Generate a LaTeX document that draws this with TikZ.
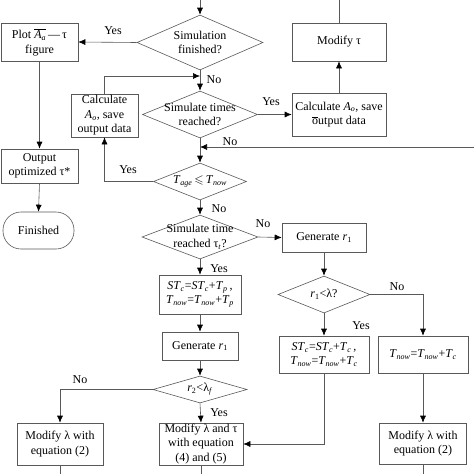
\documentclass[tikz,border=0pt]{standalone}
\usepackage{amssymb}
\usepackage{fontspec}
\setmainfont{Liberation Serif}
\usetikzlibrary{shapes.geometric,arrows.meta}

\newcommand{\vsub}[2]{\textit{#1}\textsubscript{\textit{#2}}}

\begin{document}
\begin{tikzpicture}[x=1pt,y=-1pt,
    font=\fontsize{12}{14.5}\selectfont,
    box/.style={draw=black!65, line width=0.6pt, inner sep=0pt, align=center},
    dia/.style={diamond, draw=black!65, line width=0.6pt, inner sep=-40pt, align=center},
    conn/.style={draw=black!65, line width=0.6pt},
    arr/.style={conn, -{Latex[length=7pt,width=6pt,black]}}]
    \useasboundingbox (0,0) rectangle (474,474);

    % draw boxes
    \node[box, minimum width=77, minimum height=38] (plot) at (39.5,42) {Plot $\overline{\hbox{\vsub{A}{a}}}$\,---\,τ\\figure};
    \node[box, minimum width=94, minimum height=38] (modtau) at (339,42) {Modify τ};
    \node[box, minimum width=67, minimum height=43] (calcL) at (104.5,115.5) {Calculate\\\vsub{A}{o}, save\\output data};
    \node[box, minimum width=94, minimum height=43] (calcR) at (339,114.5) {Calculate \vsub{A}{o}, save\\$\overline{\hbox{o}}$utput data};
    \node[box, minimum width=77, minimum height=34] (output) at (39.5,166) {Output\\optimized τ*};
    \node[box, minimum width=71, minimum height=37, rounded corners=18pt] (finished) at (38.5,230.5) {Finished};
    \node[box, minimum width=84, minimum height=29] (genR) at (324,237.5) {Generate \textit{r}\textsubscript{1}};
    \node[box, minimum width=82, minimum height=39] (stp) at (200,294.5) {\vsub{ST}{c}=\vsub{ST}{c}+\vsub{T}{p}\,,\\\vsub{T}{now}=\vsub{T}{now}+\vsub{T}{p}};
    \node[box, minimum width=76, minimum height=28] (genL) at (200,346) {Generate \textit{r}\textsubscript{1}};
    \node[box, minimum width=90, minimum height=37] (stc) at (324,354.5) {\vsub{ST}{c}=\vsub{ST}{c}+\vsub{T}{c}\,,\\\vsub{T}{now}=\vsub{T}{now}+\vsub{T}{c}};
    \node[box, minimum width=90, minimum height=37] (tnow) at (423,354.5) {\vsub{T}{now}=\vsub{T}{now}+\vsub{T}{c}};
    \node[box, minimum width=86, minimum height=42] (modL) at (60,444) {Modify λ with\\equation (2)};
    \node[box, minimum width=84, minimum height=42] (modM) at (201,444) {Modify λ and τ\\with equation\\(4) and (5)};
    \node[box, minimum width=87, minimum height=41] (modR) at (423,443.5) {Modify λ with\\equation (2)};

    % draw decisions
    \node[dia, minimum width=126, minimum height=55] (simfin) at (200,42.5) {Simulation\\finished?};
    \node[dia, minimum width=115, minimum height=47] (simtimes) at (200,114.5) {Simulate times\\reached?};
    \node[dia, minimum width=93, minimum height=37] (tage) at (200,181.5) {\vsub{T}{age}$\,\leqslant\,$\vsub{T}{now}};
    \node[dia, minimum width=116, minimum height=44] (simtime) at (200,237) {Simulate time\\reached τ\textsubscript{\textit{t}}?};
    \node[dia, minimum width=92, minimum height=37] (r1lam) at (324,294.5) {\textit{r}\textsubscript{1}<λ?};
    \node[dia, minimum width=94, minimum height=27] (r2lam) at (200,389.5) {\textit{r}\textsubscript{2}<λ\textsubscript{\textit{f}}};

    % draw free ends
    \coordinate (topin) at (200,0);
    \coordinate (topout) at (339,0);
    \coordinate (back) at (474,147);
    \coordinate (join) at (200,147);
    \coordinate (loop) at (200,76);

    % draw connectors
    \draw[arr] (topin) -- (simfin.north);
    \draw[conn] (modtau.north) -- (topout);
    \draw[arr] (simfin.west) -- (plot.east);
    \draw[arr] (plot.south) -- (output.north);
    \draw[arr] (output.south) -- (finished.north);
    \draw[arr] (simfin.south) -- (simtimes.north);
    \draw[arr] (calcL.north) |- (loop);
    \draw[arr] (simtimes.east) -- (calcR.west);
    \draw[arr] (calcR.north) -- (modtau.south);
    \draw[arr] (back) -- (join);
    \draw[arr] (simtimes.south) -- (tage.north);
    \draw[arr] (tage.west) -| (calcL.south);
    \draw[arr] (tage.south) -- (simtime.north);
    \draw[arr] (simtime.east) -- (genR.west);
    \draw[arr] (simtime.south) -- (stp.north);
    \draw[arr] (genR.south) -- (r1lam.north);
    \draw[arr] (r1lam.east) -| (tnow.north);
    \draw[arr] (r1lam.south) -- (stc.north);
    \draw[arr] (stp.south) -- (genL.north);
    \draw[arr] (genL.south) -- (r2lam.north);
    \draw[arr] (r2lam.west) -| (modL.north);
    \draw[arr] (r2lam.south) -- (modM.north);
    \draw[arr] (stc.south) |- (modM.east);
    \draw[arr] (tnow.south) -- (modR.north);
    \foreach \n in {modL,modM,modR}
    \draw[conn] (\n.south) -- (\n.south |- 0,474);

    % draw labels
    \node (yes1) at (113,31) {Yes};
    \node (no1) at (214,80) {No};
    \node (yes2) at (271,102) {Yes};
    \node (no2) at (230,142) {No};
    \node (yes3) at (128,170) {Yes};
    \node (no3) at (219,209) {No};
    \node (no4) at (263,224) {No};
    \node (yes4) at (219,269) {Yes};
    \node (no5) at (397,287) {No};
    \node (yes5) at (361,326) {Yes};
    \node (no6) at (80,380) {No};
    \node (yes6) at (219,413) {Yes};
\end{tikzpicture}
\end{document}
